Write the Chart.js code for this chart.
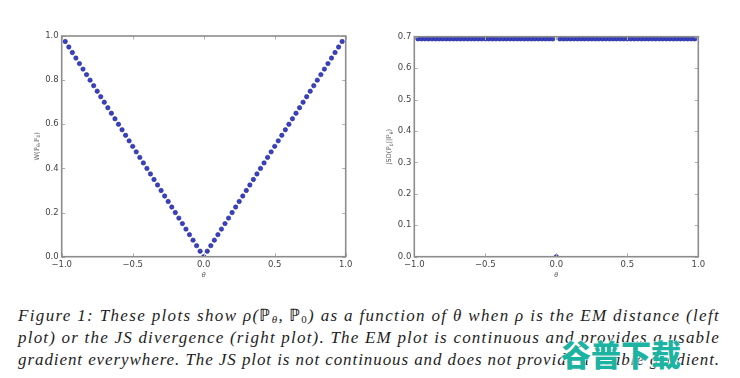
<!DOCTYPE html>
<html>
<head>
<meta charset="utf-8">
<script src="https://cdn.jsdelivr.net/npm/chart.js@4.4.0/dist/chart.umd.min.js"></script>
<style>
  html, body { margin:0; padding:0; background:#fff; }
  body { width:740px; height:378px; position:relative; overflow:hidden; }
  canvas { position:absolute; top:0; }
  #c1 { left:0; }
  #c2 { left:370px; }
  #caption { position:absolute; left:18px; width:702px; top:304.5px;
    font-family:"Liberation Serif", serif; font-style:italic; font-size:17px;
    line-height:22.2px; color:#1e1e1e; }
  #caption div { white-space:nowrap; }
  #caption span.ln { display:inline-block; white-space:nowrap; }
  #caption .bb { font-style:normal; }
  #caption sub { font-size:11px; vertical-align:-2px; line-height:0; }
  #wm { position:absolute; left:561px; top:338px; font-family:"Noto Sans CJK SC", sans-serif;
    font-weight:900; font-size:30px; color:#1db3a2; letter-spacing:0px; line-height:1;
    -webkit-text-stroke:1px #ffffff; paint-order:stroke fill; }
</style>
</head>
<body>
<canvas id="c1" width="370" height="290"></canvas>
<canvas id="c2" width="370" height="290"></canvas>
<div id="caption">
  <div><span class="ln">Figure 1: These plots show ρ(<span class="bb">ℙ</span><sub>θ</sub>,&#8201;<span class="bb">ℙ</span><sub class="bb">0</sub>) as a function of θ when ρ is the EM distance (left</span></div>
  <div><span class="ln">plot) or the JS divergence (right plot). The EM plot is continuous and provides a usable</span></div>
  <div><span class="ln">gradient everywhere. The JS plot is not continuous and does not provide a usable gradient.</span></div>
</div>
<div id="wm">谷普下载</div>
<script>
// ---- data ----
const thetas = [
  -0.975,-0.95,-0.925,-0.9,-0.875,-0.85,-0.825,-0.8,-0.775,-0.75,
  -0.725,-0.7,-0.675,-0.65,-0.625,-0.6,-0.575,-0.55,-0.525,-0.5,
  -0.475,-0.45,-0.425,-0.4,-0.375,-0.35,-0.325,-0.3,-0.275,-0.25,
  -0.225,-0.2,-0.175,-0.15,-0.125,-0.1,-0.075,-0.05,-0.025,0,
  0.025,0.05,0.075,0.1,0.125,0.15,0.175,0.2,0.225,0.25,
  0.275,0.3,0.325,0.35,0.375,0.4,0.425,0.45,0.475,0.5,
  0.525,0.55,0.575,0.6,0.625,0.65,0.675,0.7,0.725,0.75,
  0.775,0.8,0.825,0.85,0.875,0.9,0.925,0.95,0.975
];
const emValues = [
  0.975,0.95,0.925,0.9,0.875,0.85,0.825,0.8,0.775,0.75,
  0.725,0.7,0.675,0.65,0.625,0.6,0.575,0.55,0.525,0.5,
  0.475,0.45,0.425,0.4,0.375,0.35,0.325,0.3,0.275,0.25,
  0.225,0.2,0.175,0.15,0.125,0.1,0.075,0.05,0.025,0,
  0.025,0.05,0.075,0.1,0.125,0.15,0.175,0.2,0.225,0.25,
  0.275,0.3,0.325,0.35,0.375,0.4,0.425,0.45,0.475,0.5,
  0.525,0.55,0.575,0.6,0.625,0.65,0.675,0.7,0.725,0.75,
  0.775,0.8,0.825,0.85,0.875,0.9,0.925,0.95,0.975
];
const jsdValues = [
  0.693,0.693,0.693,0.693,0.693,0.693,0.693,0.693,0.693,0.693,
  0.693,0.693,0.693,0.693,0.693,0.693,0.693,0.693,0.693,0.693,
  0.693,0.693,0.693,0.693,0.693,0.693,0.693,0.693,0.693,0.693,
  0.693,0.693,0.693,0.693,0.693,0.693,0.693,0.693,0.693,0,
  0.693,0.693,0.693,0.693,0.693,0.693,0.693,0.693,0.693,0.693,
  0.693,0.693,0.693,0.693,0.693,0.693,0.693,0.693,0.693,0.693,
  0.693,0.693,0.693,0.693,0.693,0.693,0.693,0.693,0.693,0.693,
  0.693,0.693,0.693,0.693,0.693,0.693,0.693,0.693,0.693
];
const xTicks = [-1.0, -0.5, 0.0, 0.5, 1.0];
const yTicksEM = [0.0, 0.2, 0.4, 0.6, 0.8, 1.0];
const yTicksJSD = [0.0, 0.1, 0.2, 0.3, 0.4, 0.5, 0.6, 0.7];
const xTitle = [{t:'θ', it:true}];
const yTitleEM = [{t:'W('},{t:'ℙ'},{t:'θ',sub:true},{t:','},{t:'ℙ'},{t:'0',sub:true},{t:')'}];
const yTitleJSD = [{t:'JSD('},{t:'ℙ'},{t:'0',sub:true},{t:'||'},{t:'ℙ'},{t:'θ',sub:true},{t:')'}];

function fmt(v){ return v.toFixed(1).replace('-', '\u2212'); }

function drawRich(ctx, parts, cx, cy, rot, size){
  const fMain = size + 'px "DejaVu Sans"';
  const fSub = (size*0.7) + 'px "DejaVu Sans"';
  let w = 0;
  parts.forEach(p => { ctx.font = (p.it?'italic ':'') + (p.sub?fSub:fMain); p.w = ctx.measureText(p.t).width; w += p.w; });
  ctx.save();
  ctx.translate(cx, cy);
  ctx.rotate(rot);
  ctx.fillStyle = '#555';
  ctx.textBaseline = 'middle';
  ctx.textAlign = 'left';
  let x = -w/2;
  parts.forEach(p => {
    ctx.font = (p.it?'italic ':'') + (p.sub?fSub:fMain);
    ctx.fillText(p.t, x, p.sub ? size*0.3 : 0);
    x += p.w;
  });
  ctx.restore();
}

const framePlugin = {
  id: 'frame',
  afterDatasetsDraw(chart, args, opts){
    const {ctx, chartArea:a, scales} = chart;
    ctx.save();
    ctx.strokeStyle = '#b0b0b0';
    ctx.lineWidth = 1;
    const L = 3.5;
    opts.xt.forEach(v => {
      const px = Math.round(scales.x.getPixelForValue(v)) + 0.5;
      ctx.beginPath();
      ctx.moveTo(px, a.bottom); ctx.lineTo(px, a.bottom - L);
      ctx.moveTo(px, a.top); ctx.lineTo(px, a.top + L);
      ctx.stroke();
    });
    opts.yt.forEach(v => {
      const py = Math.round(scales.y.getPixelForValue(v)) + 0.5;
      ctx.beginPath();
      ctx.moveTo(a.left, py); ctx.lineTo(a.left + L, py);
      ctx.moveTo(a.right, py); ctx.lineTo(a.right - L, py);
      ctx.stroke();
    });
    ctx.strokeStyle = '#8c8c8c';
    ctx.lineWidth = 1.6;
    ctx.strokeRect(a.left, a.top, a.right - a.left, a.bottom - a.top);
    ctx.restore();
    drawRich(ctx, opts.ytitle, a.left - 24.5, (a.top + a.bottom)/2, -Math.PI/2, 6.5);
    drawRich(ctx, xTitle, scales.x.getPixelForValue(0), a.bottom + 18.5, 0, 6.5);
  }
};

function makeChart(id, yvals, ymax, ystep, yticks, ytitle, pad, yw){
  return new Chart(document.getElementById(id), {
    type: 'scatter',
    data: { datasets: [{
      data: thetas.map((t, i) => ({x: t, y: yvals[i]})),
      backgroundColor: '#3a40c4',
      borderColor: '#23288f',
      borderWidth: 0.6,
      pointRadius: 2.2,
      pointHoverRadius: 2.2,
      showLine: false
    }]},
    options: {
      responsive: false,
      animation: false,
      events: [],
      layout: { padding: pad },
      plugins: { legend: {display:false}, tooltip: {enabled:false},
        frame: { xt: xTicks, yt: yticks, ytitle: ytitle } },
      scales: {
        x: { type:'linear', min:-1, max:1,
          afterFit: s => { s.height = 33.3; },
          grid: { display:false, drawTicks:false }, border: { display:false },
          ticks: { stepSize:0.5, padding:2.5, maxRotation:0, autoSkip:false,
            color:'#444', font:{family:'DejaVu Sans', size:8.5},
            callback: v => fmt(v) } },
        y: { type:'linear', min:0, max:ymax,
          afterFit: s => { s.width = yw; },
          grid: { display:false, drawTicks:false }, border: { display:false },
          ticks: { stepSize:ystep, padding:3, autoSkip:false,
            color:'#444', font:{family:'DejaVu Sans', size:8.5},
            callback: v => fmt(v) } }
      }
    },
    plugins: [framePlugin]
  });
}

makeChart('c1', emValues, 1.0, 0.2, yTicksEM, yTitleEM, {top:36, right:24.3, left:0, bottom:0}, 61.7);
makeChart('c2', jsdValues, 0.7, 0.1, yTicksJSD, yTitleJSD, {top:36.7, right:41.7, left:0, bottom:0}, 44.3);

// stretch each caption line to the full measure with letter spacing (like wide CM glyphs)
document.querySelectorAll('#caption span.ln').forEach(sp => {
  const w = sp.getBoundingClientRect().width;
  const n = sp.textContent.length;
  const ls = (702 - w) / n;
  sp.style.letterSpacing = ls + 'px';
});
</script>
</body>
</html>
